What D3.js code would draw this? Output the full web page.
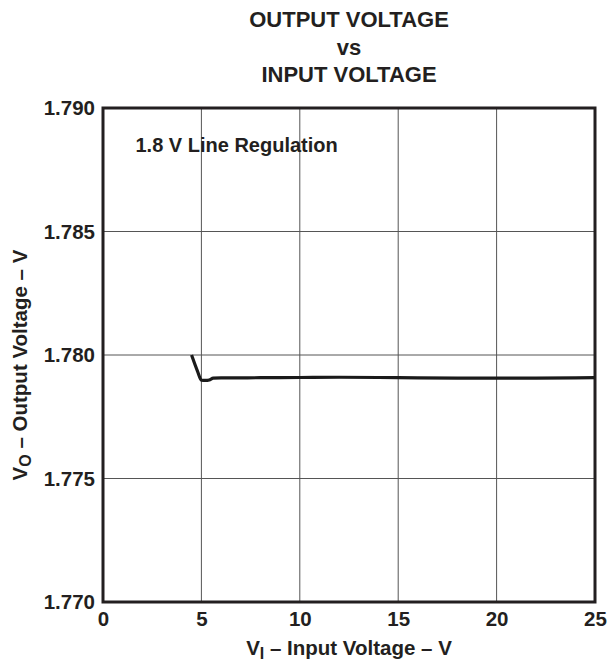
<!DOCTYPE html>
<html>
<head>
<meta charset="utf-8">
<script src="https://cdn.jsdelivr.net/npm/d3@7"></script>
<style>
  html, body { margin: 0; padding: 0; background: #fff; }
  svg text { font-family: "Liberation Sans", Arial, Helvetica, sans-serif; font-weight: bold; fill: #231f20; }
</style>
</head>
<body>
<svg id="chart" width="608" height="664"></svg>
<script>
// Input voltage (V) and measured output voltage (V) for the 1.8 V regulator
const inputVoltage  = [4.5, 4.8, 5.0, 5.2, 5.4, 5.6, 6, 8, 10, 12, 14, 16, 18, 20, 22, 24, 25];
const outputVoltage = [1.7800, 1.77935, 1.77898, 1.77897, 1.77899, 1.77906, 1.77907, 1.77908, 1.77909, 1.77910, 1.77909, 1.77907, 1.77906, 1.77906, 1.77906, 1.77907, 1.77908];

const xTicks = [0, 5, 10, 15, 20, 25];
const yTicks = [1.770, 1.775, 1.780, 1.785, 1.790];

const margin = { left: 103, right: 13, top: 108, bottom: 62 };
const W = 608, H = 664;

const svg = d3.select("#chart");

const x = d3.scaleLinear().domain([0, 25]).range([margin.left, W - margin.right]);
const y = d3.scaleLinear().domain([1.770, 1.790]).range([H - margin.bottom, margin.top]);

// grid lines
svg.append("g")
  .selectAll("line")
  .data(xTicks.slice(1, -1))
  .join("line")
  .attr("x1", d => x(d)).attr("x2", d => x(d))
  .attr("y1", y(1.790)).attr("y2", y(1.770))
  .attr("stroke", "#555").attr("stroke-width", 1);

svg.append("g")
  .selectAll("line")
  .data(yTicks.slice(1, -1))
  .join("line")
  .attr("x1", x(0)).attr("x2", x(25))
  .attr("y1", d => y(d)).attr("y2", d => y(d))
  .attr("stroke", "#555").attr("stroke-width", 1);

// axes (labels only, frame drawn separately)
const xAxis = d3.axisBottom(x).tickValues(xTicks).tickFormat(d3.format("d")).tickSize(0).tickPadding(9);
const yAxis = d3.axisLeft(y).tickValues(yTicks).tickFormat(d3.format(".3f")).tickSize(0).tickPadding(8);

const gx = svg.append("g").attr("transform", `translate(0,${y(1.770)})`).call(xAxis);
const gy = svg.append("g").attr("transform", `translate(${x(0)},0)`).call(yAxis);
[gx, gy].forEach(g => {
  g.select(".domain").remove();
  g.selectAll("text").attr("font-size", 20.5).attr("font-family", null).attr("fill", "#231f20");
});

// plot frame
svg.append("rect")
  .attr("x", x(0)).attr("y", y(1.790))
  .attr("width", x(25) - x(0)).attr("height", y(1.770) - y(1.790))
  .attr("fill", "none").attr("stroke", "#231f20").attr("stroke-width", 3);

// data curve
const line = d3.line().x((d, i) => x(inputVoltage[i])).y(d => y(d)).curve(d3.curveMonotoneX);
svg.append("path")
  .datum(outputVoltage)
  .attr("d", line)
  .attr("fill", "none")
  .attr("stroke", "#1a1a1a")
  .attr("stroke-width", 3.2)
  .attr("stroke-linejoin", "round");

// annotation
svg.append("text")
  .attr("x", x(1.65)).attr("y", 152)
  .attr("font-size", 20)
  .text("1.8 V Line Regulation");

// title
const title = ["OUTPUT VOLTAGE", "vs", "INPUT VOLTAGE"];
const cx = (x(0) + x(25)) / 2;
svg.append("g").selectAll("text")
  .data(title)
  .join("text")
  .attr("x", cx)
  .attr("y", (d, i) => 27 + i * 27.5)
  .attr("text-anchor", "middle")
  .attr("font-size", 22)
  .text(d => d);

// x-axis label
const xl = svg.append("text")
  .attr("x", cx).attr("y", 655)
  .attr("text-anchor", "middle")
  .attr("font-size", 20.5);
xl.append("tspan").text("V");
xl.append("tspan").attr("font-size", 16).attr("dy", 4).text("I");
xl.append("tspan").attr("dy", -4).text(" – Input Voltage – V");

// y-axis label
const yl = svg.append("text")
  .attr("transform", `translate(27,365) rotate(-90)`)
  .attr("text-anchor", "middle")
  .attr("font-size", 20.5);
yl.append("tspan").text("V");
yl.append("tspan").attr("font-size", 16).attr("dy", 4).text("O");
yl.append("tspan").attr("dy", -4).text(" – Output Voltage – V");
</script>
</body>
</html>
